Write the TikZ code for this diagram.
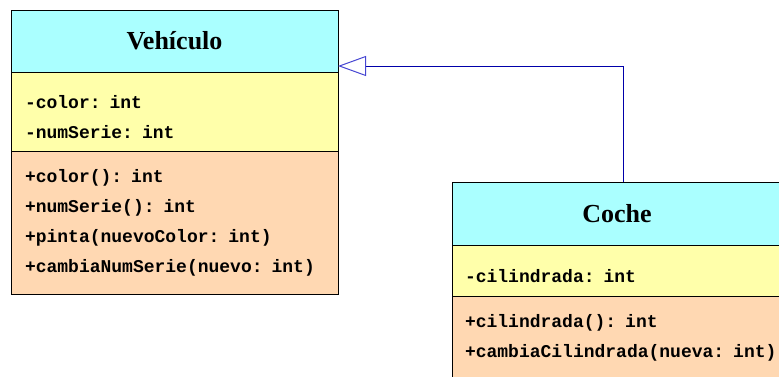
\documentclass[tikz,border=0pt]{standalone}
\usepackage{fontspec}
\setmainfont{Liberation Serif}
\newfontfamily\monofont{Liberation Mono}
\usetikzlibrary{positioning,arrows.meta}
\definecolor{headcol}{RGB}{170,255,255}
\definecolor{attrcol}{RGB}{255,255,170}
\definecolor{opcol}{RGB}{255,216,178}
\definecolor{linkcol}{RGB}{0,0,170}
\definecolor{tipcol}{RGB}{70,70,210}
\tikzstyle{classname} = [rectangle, draw, fill=headcol, line width=1pt, outer sep=0pt,
    font=\fontsize{26}{30}\selectfont\bfseries]
\tikzstyle{members} = [rectangle, draw, line width=1pt, outer sep=0pt, inner xsep=14pt,
    align=left, font=\monofont\fontsize{18}{30}\selectfont\bfseries]
\tikzstyle{attrs} = [members, fill=attrcol, text height=24pt]
\tikzstyle{ops} = [members, fill=opcol]
\tikzstyle{inherit} = [draw, linkcol, line width=1pt,
    -{Triangle[open, length=28pt, width=20pt, color=tipcol, line width=1pt]}]

\begin{document}
\begin{tikzpicture}[x=1pt, y=1pt]
		\useasboundingbox (0,0) rectangle (779,376);
		\clip (0,0) rectangle (779,376);
		\node [classname, minimum width=327pt, minimum height=62pt] (veh) at (174.5,335) {Vehículo};
		\node [attrs, below=0pt of veh, text width=299pt, minimum height=79pt] (vehattr) {-color: int\\-numSerie: int};
		\node [ops, below=0pt of vehattr, text width=299pt, minimum height=143pt] (vehops) {+color(): int\\+numSerie(): int\\+pinta(nuevoColor: int)\\+cambiaNumSerie(nuevo: int)};
		
		\node [classname, minimum width=330pt, minimum height=63pt] (coche) at (617,162.5) {Coche};
		\node [attrs, below=0pt of coche.south west, anchor=north west, inner xsep=13pt, text width=318pt, minimum height=51pt] (cocheattr) {-cilindrada: int};
		\node [ops, below=0pt of cocheattr, inner xsep=13pt, text width=318pt, minimum height=83pt] (cocheops) {+cilindrada(): int\\+cambiaCilindrada(nueva: int)};
		
		\path [inherit] ([xshift=6pt]coche.north) |- ([yshift=6pt]veh.south east);
	\end{tikzpicture}
\end{document}
